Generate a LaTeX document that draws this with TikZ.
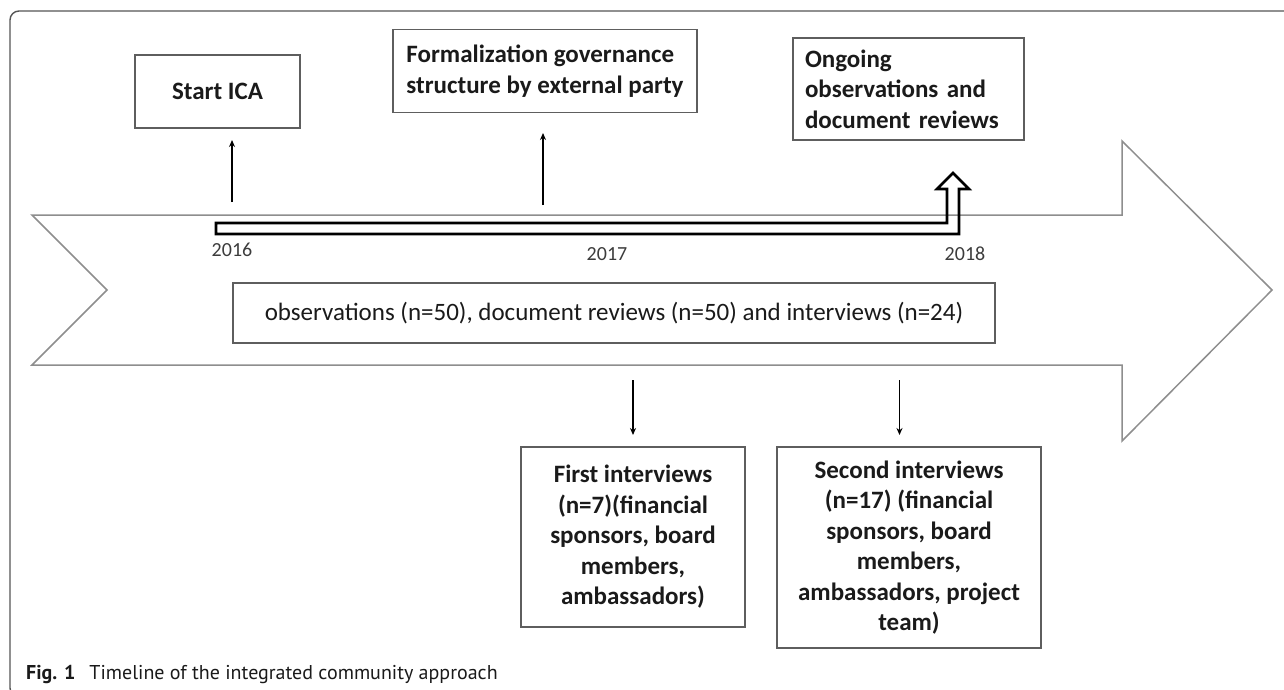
\documentclass[tikz,border=0pt]{standalone}
\usepackage{fontspec}
\setmainfont{Carlito}
\newfontfamily\capfont{PT Sans}
\usetikzlibrary{arrows.meta}
\definecolor{boxc}{HTML}{5E5E5E}
\definecolor{arrc}{HTML}{8E8E8E}
\definecolor{framec}{HTML}{555555}
\definecolor{txtc}{HTML}{1A1A1A}
\begin{document}
\begin{tikzpicture}[x=1pt,y=-1pt,
  box/.style={draw=boxc, line width=1.5pt, inner sep=0pt, text=txtc,
              font=\fontsize{25}{30.5}\selectfont},
  boldbox/.style={box, font=\fontsize{25}{30.5}\selectfont\bfseries},
  year/.style={inner sep=0pt, text=txtc!85!white, font=\fontsize{20}{24}\selectfont},
  conn/.style={line width=1.6pt, -{Stealth[length=7pt,width=6pt]}}]
\useasboundingbox (0,0) rectangle (1284,689);
\clip (0,0) rectangle (1284,689);
% page frame
\draw[framec, line width=1.4pt, rounded corners=9pt] (1300,11) -- (10,11) -- (10,697) -- (40,697);
% big timeline arrow
\draw[arrc, line width=1.5pt, line join=miter]
  (32,215) -- (1122,215) -- (1122,141) -- (1272,290) -- (1122,441) -- (1122,365)
  -- (32,365) -- (107,290) -- cycle;
% black bent bar arrow
\draw[black, line width=2.6pt, line join=miter]
  (216,223) -- (947,223) -- (947,189) -- (937,189) -- (953,173) -- (969,189)
  -- (959,189) -- (959,234) -- (216,234) -- cycle;
% year labels
\node[year] (y16) at (232,250) {2016};
\node[year] (y17) at (607,254) {2017};
\node[year] (y18) at (965,254) {2018};
% boxes
\node[boldbox, minimum width=165pt, minimum height=73pt] (start) at (217.5,91.5) {Start ICA};
\node[boldbox, minimum width=304pt, minimum height=83pt, align=left] (formal) at (545,71)
  {Formalization governance\\structure by external party};
\node[boldbox, text width=207pt, inner xsep=12pt, minimum height=102pt, align=left] (ongoing) at (908.5,89)
  {Ongoing\\observations and\\document reviews};
\node[box, minimum width=762pt, minimum height=60pt] (obs) at (614,313)
  {observations (n=50), document reviews (n=50) and interviews (n=24)};
\node[boldbox, minimum width=224pt, minimum height=180pt, align=center] (first) at (633,537)
  {First interviews\\(n=7)(financial\\sponsors, board\\members,\\ambassadors)};
\node[boldbox, minimum width=264pt, minimum height=201pt, align=center] (second) at (909,547.5)
  {Second interviews\\(n=17) (financial\\sponsors, board\\members,\\ambassadors, project\\team)};
% connectors
\coordinate (u1s) at (232,202); \coordinate (u1e) at (232,140);
\coordinate (u2s) at (543,205); \coordinate (u2e) at (543,133);
\coordinate (d1s) at (633,380); \coordinate (d1e) at (633,435);
\coordinate (d2s) at (899.5,380); \coordinate (d2e) at (899.5,435);
\draw[conn] (u1s) -- (u1e);
\draw[conn] (u2s) -- (u2e);
\draw[conn] (d1s) -- (d1e);
\draw[conn] (d2s) -- (d2e);
% caption
\node[anchor=base west, inner sep=0pt, text=txtc, font=\capfont\fontsize{20}{24}\selectfont] (cap) at (26,679)
  {\textbf{Fig. 1}\hspace{14pt}Timeline of the integrated community approach};
\end{tikzpicture}
\end{document}
